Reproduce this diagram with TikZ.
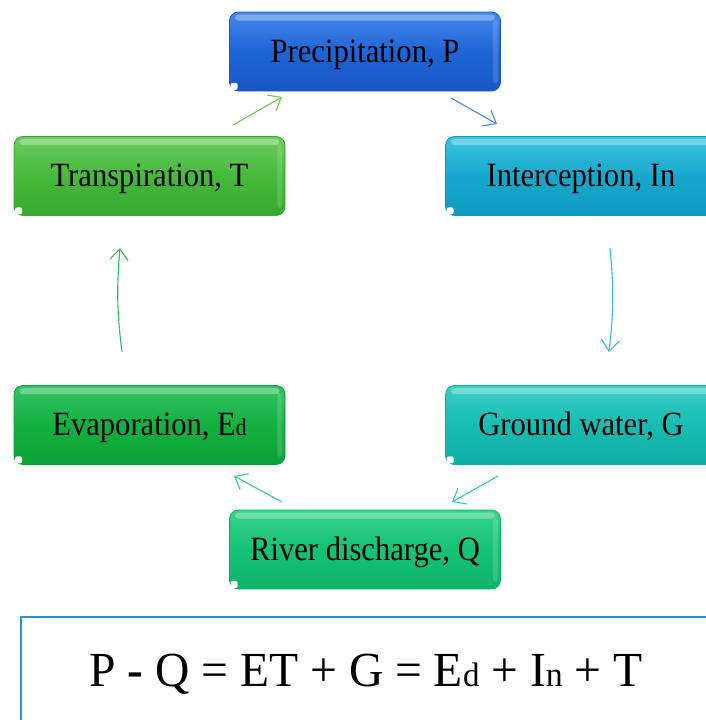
\documentclass[tikz,border=0pt]{standalone}
\usepackage{fontspec}
\setmainfont{Liberation Serif}[FakeStretch=0.9]
\newfontfamily\eqfont{Liberation Serif}[FakeStretch=0.97]
\usetikzlibrary{arrows.meta,calc}
\definecolor{pT}{HTML}{4688EC}\definecolor{pM}{HTML}{1E64D6}\definecolor{pB}{HTML}{1858C4}
\definecolor{tT}{HTML}{6CCC5C}\definecolor{tM}{HTML}{46BA3A}\definecolor{tB}{HTML}{36A830}
\definecolor{iT}{HTML}{3CC4E0}\definecolor{iM}{HTML}{16A8CC}\definecolor{iB}{HTML}{0E9CC0}
\definecolor{gT}{HTML}{3CCEC6}\definecolor{gM}{HTML}{16BCB2}\definecolor{gB}{HTML}{10AEA6}
\definecolor{eT}{HTML}{34C464}\definecolor{eM}{HTML}{12B040}\definecolor{eB}{HTML}{0CA238}
\definecolor{qT}{HTML}{38D28C}\definecolor{qM}{HTML}{14C276}\definecolor{qB}{HTML}{0EB46A}
\definecolor{eqblue}{HTML}{2A90D0}
\tikzset{
  gbox/.style={rounded corners=9pt, minimum width=271pt, minimum height=79pt,
    inner sep=0pt, font=\fontsize{34}{40}\selectfont, text=black, line width=0.8pt,
    text height=25pt, text depth=4pt},
  flow/.style={-{Straight Barb[length=11pt,width=18pt]}, line width=1.1pt},
}
\newcommand\glossbox[7]{%
  \node[gbox, draw=#6, top color=#4, bottom color=#6, middle color=#5] (#1) at (#2,#3) {#7};
  \fill[white, opacity=0.3, rounded corners=3pt]
    ([shift={(6pt,-3pt)}]#1.north west) rectangle ([shift={(-6pt,-9pt)}]#1.north east);
  \fill[white, opacity=0.15, rounded corners=3pt]
    ([shift={(-8pt,-8pt)}]#1.north east) rectangle ([shift={(-3pt,8pt)}]#1.south east);
  \fill[white, rounded corners=2pt] ([shift={(1.5pt,1.5pt)}]#1.south west) rectangle ++(7pt,7pt);
}
\begin{document}
\begin{tikzpicture}[x=1pt,y=-1pt]
\useasboundingbox (0,0) rectangle (705,720);
\fill[white] (0,0) rectangle (705,720);
\glossbox{P}{365}{51.5}{pT}{pM}{pB}{Precipitation, P}
\glossbox{T}{149.5}{176}{tT}{tM}{tB}{Transpiration, T}
\glossbox{In}{581}{176}{iT}{iM}{iB}{Interception, In}
\glossbox{G}{581}{425}{gT}{gM}{gB}{Ground water, G}
\glossbox{Ed}{149.5}{425}{eT}{eM}{eB}{Evaporation, E{\fontsize{24}{30}\selectfont d}}
\glossbox{Q}{365}{549.5}{qT}{qM}{qB}{River discharge, Q}
\node[draw=eqblue, line width=2pt, minimum width=690pt, minimum height=106pt,
  anchor=north west, inner sep=0pt, font=\eqfont\fontsize{49}{56}\selectfont,
  text height=34pt, text depth=2pt] (eq) at (20,616)
  {P \textbf{-} Q = ET + G = E{\fontsize{34}{40}\selectfont d} + I{\fontsize{35}{40}\selectfont n} + T};
\coordinate (tp1) at (233,125); \coordinate (tp2) at (282,97);
\coordinate (pi1) at (451,98);  \coordinate (pi2) at (497,124);
\coordinate (ig1) at (610,248); \coordinate (ig2) at (609,352);
\coordinate (gq1) at (498,476); \coordinate (gq2) at (452,502);
\coordinate (qe1) at (282,502); \coordinate (qe2) at (234,476);
\coordinate (et1) at (122,352); \coordinate (et2) at (120,248);
\draw[flow, color=tT] (tp1) -- (tp2);
\draw[flow, color=pT] (pi1) -- (pi2);
\draw[flow, color=iT!80!iM] (ig1) to[bend left=6] (ig2);
\draw[flow, color=gT!80!gM] (gq1) -- (gq2);
\draw[flow, color=qT!80!qM] (qe1) -- (qe2);
\draw[flow, color=eT!80!eM] (et1) to[bend left=6] (et2);
\end{tikzpicture}
\end{document}
